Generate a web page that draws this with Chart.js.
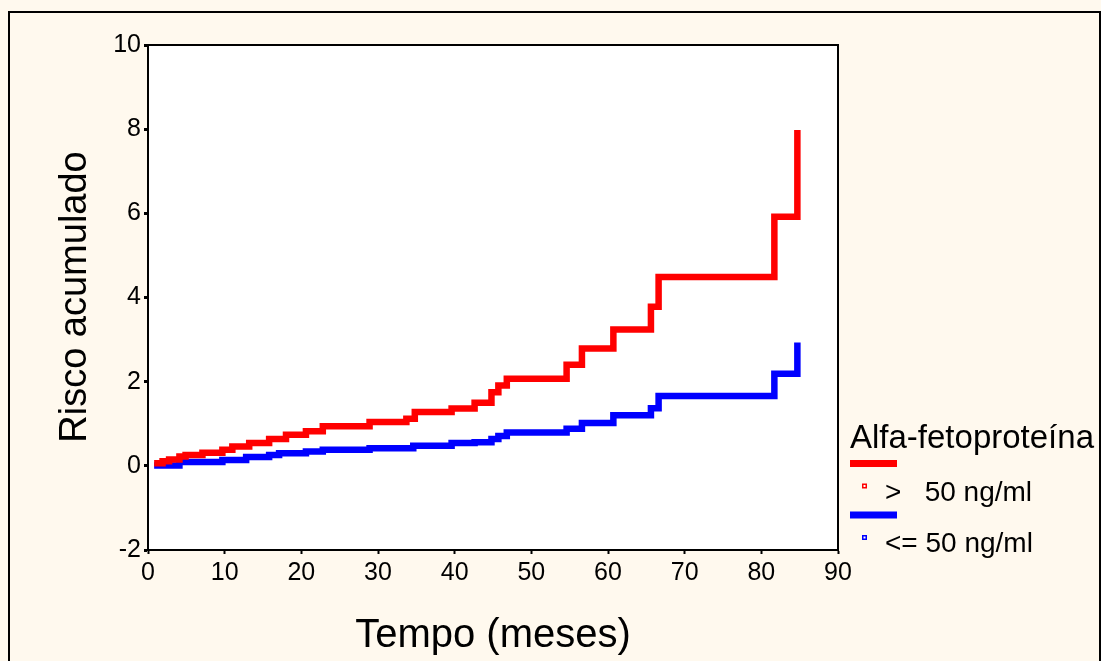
<!DOCTYPE html>
<html>
<head>
<meta charset="utf-8">
<script src="https://cdn.jsdelivr.net/npm/chart.js@4.4.1/dist/chart.umd.min.js"></script>
<style>
  html, body { margin: 0; padding: 0; background: #fff9ee; }
  canvas { display: block; }
</style>
</head>
<body>
<canvas id="grafico" width="1101" height="661"></canvas>
<script>
// tempos (meses) e risco acumulado
const tempoAlto = [0.8, 1.9, 2.75, 4.1, 4.9, 7.1, 9.7, 11.0, 13.2, 15.8, 18.0, 20.6, 22.8, 28.9, 33.7, 34.8, 39.6, 42.6, 44.8, 45.7, 46.8, 54.6, 56.6, 60.7, 65.6, 66.6, 81.7, 84.7];
const riscoAlto = [0.06, 0.11, 0.15, 0.22, 0.26, 0.31, 0.38, 0.46, 0.54, 0.64, 0.74, 0.82, 0.94, 1.04, 1.12, 1.28, 1.36, 1.5, 1.75, 1.91, 2.07, 2.40, 2.79, 3.24, 3.78, 4.49, 5.92, 7.98];

const tempoBaixo = [0.8, 4.1, 9.7, 12.8, 15.8, 17.1, 20.6, 22.8, 28.9, 34.6, 39.6, 42.6, 44.8, 45.7, 46.8, 54.6, 56.6, 60.7, 65.6, 66.6, 81.7, 84.7];
const riscoBaixo = [0.01, 0.09, 0.14, 0.21, 0.26, 0.30, 0.34, 0.38, 0.42, 0.48, 0.54, 0.56, 0.64, 0.71, 0.79, 0.88, 1.02, 1.20, 1.37, 1.66, 2.19, 2.93];

const grupos = [">   50 ng/ml", "<= 50 ng/ml"];
const cores = ["#ff0000", "#0000ff"];
const ticksX = [0, 10, 20, 30, 40, 50, 60, 70, 80, 90];
const ticksY = [-2, 0, 2, 4, 6, 8, 10];

const fonte = '"Liberation Sans", Arial, sans-serif';
Chart.defaults.font.family = fonte;
Chart.defaults.color = "#000";

function pontos(t, v) {
    return t.map((x, i) => ({ x: x, y: v[i] }));
}

// fundo, moldura, títulos e legenda
const decoracao = {
    id: "decoracao",
    beforeDraw(chart) {
        const c = chart.ctx;
        const a = chart.chartArea;
        c.save();
        c.fillStyle = "#fff9ee";
        c.fillRect(0, 0, chart.width, chart.height);
        c.strokeStyle = "#000";
        c.lineWidth = 2;
        c.strokeRect(9, 12, 1091, 700);
        c.fillStyle = "#fff";
        c.fillRect(a.left, a.top, a.right - a.left, a.bottom - a.top);
        c.restore();
    },
    afterDraw(chart) {
        const c = chart.ctx;
        const a = chart.chartArea;
        c.save();
        // topo e direita do quadro
        c.strokeStyle = "#000";
        c.lineWidth = 2;
        c.beginPath();
        c.moveTo(a.left, a.top);
        c.lineTo(a.right, a.top);
        c.lineTo(a.right, a.bottom);
        c.stroke();

        // títulos dos eixos
        c.fillStyle = "#000";
        c.font = "40px " + fonte;
        c.textAlign = "center";
        c.textBaseline = "middle";
        c.fillText("Tempo (meses)", 493, 636);
        c.font = "38px " + fonte;
        c.translate(76, 297);
        c.rotate(-Math.PI / 2);
        c.fillText("Risco acumulado", 0, 0);
        c.restore();

        // legenda
        c.save();
        c.fillStyle = "#000";
        c.textAlign = "left";
        c.textBaseline = "alphabetic";
        c.font = "33px " + fonte;
        c.fillText("Alfa-fetoproteína", 850, 448);
        const ys = [463.5, 515];
        c.font = "28px " + fonte;
        grupos.forEach((g, i) => {
            c.fillStyle = cores[i];
            c.fillRect(850, ys[i] - 3.5, 47, 7);
            c.fillRect(862, ys[i] + 20, 5, 5);
            c.fillStyle = "#fff";
            c.fillRect(863.5, ys[i] + 21.5, 2, 2);
            c.fillStyle = "#000";
            c.fillText(g, 885, ys[i] + 37);
        });
        c.restore();
    }
};

const chart = new Chart(document.getElementById("grafico"), {
    type: "line",
    data: {
        datasets: [
            {
                label: grupos[0],
                data: pontos(tempoAlto, riscoAlto),
                borderColor: cores[0],
                borderWidth: 6.5,
                stepped: true,
                pointRadius: 0,
                fill: false
            },
            {
                label: grupos[1],
                data: pontos(tempoBaixo, riscoBaixo),
                borderColor: cores[1],
                borderWidth: 6.5,
                stepped: true,
                pointRadius: 0,
                fill: false
            }
        ]
    },
    options: {
        responsive: false,
        animation: false,
        layout: { padding: { top: 45, right: 263, left: 0, bottom: 0 } },
        plugins: {
            legend: { display: false },
            tooltip: { enabled: false }
        },
        scales: {
            x: {
                type: "linear",
                min: 0,
                max: 90,
                afterFit(s) { s.height = 111; },
                afterBuildTicks(s) { s.ticks = ticksX.map(v => ({ value: v })); },
                border: { display: true, color: "#000", width: 2 },
                grid: { drawOnChartArea: false, drawTicks: true, tickLength: 4, tickWidth: 2, color: "#000" },
                ticks: { font: { size: 25 }, padding: 4, maxRotation: 0, color: "#000" }
            },
            y: {
                type: "linear",
                min: -2,
                max: 10,
                afterFit(s) { s.width = 148; },
                afterBuildTicks(s) { s.ticks = ticksY.map(v => ({ value: v })); },
                border: { display: true, color: "#000", width: 2 },
                grid: { drawOnChartArea: false, drawTicks: true, tickLength: 4, tickWidth: 3, color: "#000" },
                ticks: { font: { size: 25 }, padding: 3, color: "#000" }
            }
        }
    },
    plugins: [decoracao]
});
</script>
</body>
</html>
